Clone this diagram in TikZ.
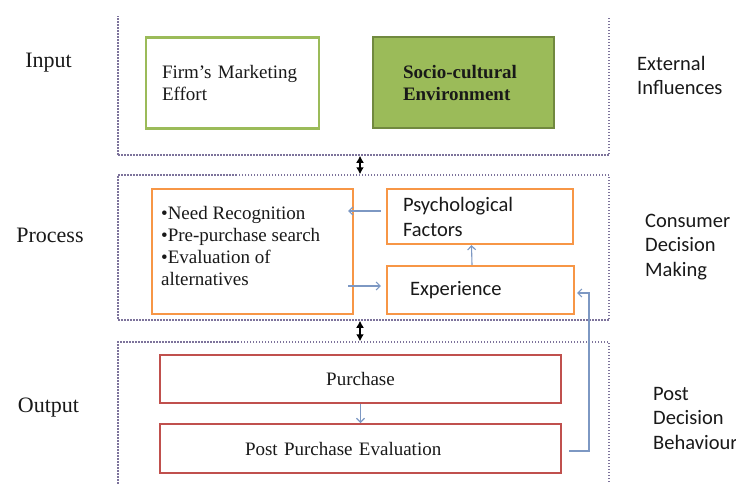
\documentclass[tikz,border=0pt]{standalone}
\usepackage{fontspec}
\setmainfont{Liberation Serif}
\setsansfont{Carlito}
\usetikzlibrary{arrows.meta,positioning}
\definecolor{myframe}{RGB}{125,115,155}
\definecolor{mygreen}{RGB}{155,187,89}
\definecolor{mydkgreen}{RGB}{113,137,63}
\definecolor{myorange}{RGB}{247,150,70}
\definecolor{myred}{RGB}{192,80,77}
\definecolor{myarrow}{RGB}{125,152,195}
\definecolor{mytext}{RGB}{25,25,25}

\begin{document}
\begin{tikzpicture}[x=1pt,y=-1pt,text=mytext,
  frame/.style={draw=myframe,line width=1.5pt,dash pattern=on 1.5pt off 1.5pt,
    minimum width=491pt,inner sep=0},
  gbox/.style={draw=mygreen,line width=2.2pt,minimum height=91pt,align=left,
    font=\fontsize{19}{22}\selectfont},
  obox/.style={draw=myorange,line width=2.2pt,align=left},
  rbox/.style={draw=myred,line width=2pt,minimum width=401pt,
    font=\fontsize{19}{22}\selectfont},
  flow/.style={draw=myarrow,line width=1.1pt,-{Straight Barb[length=4pt,width=8pt]}},
  dbl/.style={line width=1.6pt,{Latex[length=7pt,width=8pt]}-{Latex[length=7pt,width=8pt]}},
  lname/.style={font=\fontsize{22}{26}\selectfont},
  rname/.style={font=\sffamily\fontsize{20.5}{24.5}\selectfont,anchor=west,
    align=left,inner sep=0}]

  \useasboundingbox (0,0) rectangle (736,483);
  \fill[white] (0,0) rectangle (736,483);
  \clip (0,16.5) rectangle (736,483);

  % the three layers
  \node[frame,minimum height=140pt] (inframe) at (363.5,85) {};
  \node[frame,minimum height=145pt] (procframe) at (363.5,247.5) {};
  \node[frame,minimum height=153pt] (outframe) at (363.5,418.5) {};

  \node[gbox,inner xsep=16pt,text width=141pt] (firm) at (232.5,83) {Firm's Marketing\\Effort};
  \node[gbox,fill=mygreen,draw=mydkgreen,inner xsep=30pt,text width=121pt,
    font=\bfseries\fontsize{19}{22}\selectfont] (socio) at (463.5,82.5) {Socio-cultural\\Environment};

  \node[obox,minimum width=201pt,minimum height=125pt] (steps) at (252.5,251.5) {};
  \node[anchor=north west,align=left,inner sep=0,font=\fontsize{19}{22}\selectfont]
    (stepstext) at ([xshift=10pt,yshift=-18pt]steps.north west)
    {•Need Recognition\\•Pre-purchase search\\•Evaluation of\\alternatives};
  \node[obox,minimum height=55pt,inner xsep=16pt,text width=154pt,
    font=\sffamily\fontsize{20.5}{25}\selectfont] (psych) at (480,216.5) {Psychological\\Factors};
  \node[obox,minimum height=48pt,inner xsep=23pt,text width=141pt,
    font=\sffamily\fontsize{20.5}{25}\selectfont] (exper) at (480.5,290) {Experience};

  \node[rbox,minimum height=48pt] (purchase) at (360.5,379) {Purchase};
  \node[rbox,minimum height=49pt,inner xsep=85pt,text width=231pt,align=left] (post)
    at (360.5,448.5) {Post Purchase Evaluation};

  % names on both sides
  \node[lname] (input) at (48.5,63) {Input};
  \node[lname] (process) at (50,235) {Process};
  \node[lname] (output) at (48.5,408) {Output};
  \node[rname] (external) at (637,75.5) {External\\Influences};
  \node[rname] (consumer) at (645,247) {Consumer\\Decision\\Making};
  \node[rname] (postdec) at (653,418) {Post\\Decision\\Behaviour};

  % links between layers
  \draw[dbl] ([xshift=-3.5pt]inframe.south) -- ([xshift=-3.5pt]procframe.north);
  \draw[dbl] ([xshift=-3.5pt]procframe.south) -- ([xshift=-3.5pt]outframe.north);

  % arrows inside the process box
  \path ([xshift=-5pt,yshift=5.5pt]psych.west) coordinate (p1)
        ([xshift=-5pt,yshift=4pt]exper.west) coordinate (e1);
  \draw[flow] (p1) -- ([xshift=-6pt]p1 -| steps.east);
  \draw[flow] ([xshift=-6pt]e1 -| steps.east) -- (e1);
  \draw[flow] ([xshift=-8.5pt]exper.north) -- ([xshift=-8.5pt]psych.south);

  \draw[flow] (purchase) -- (post);
  % feedback from evaluation to experience
  \draw[flow] ([xshift=7pt,yshift=-2.5pt]post.east) -- ++(20,0)
    |- ([xshift=2pt,yshift=-3pt]exper.east);

\end{tikzpicture}
\end{document}
